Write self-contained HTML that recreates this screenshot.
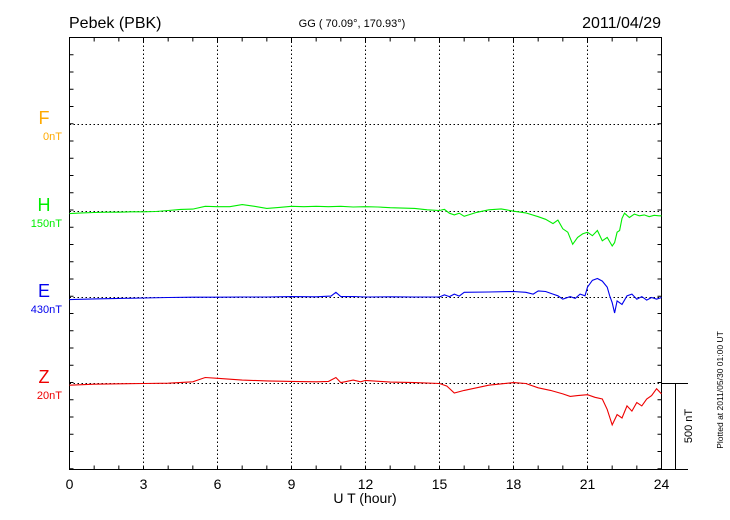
<!DOCTYPE html>
<html><head><meta charset="utf-8"><style>
body{margin:0;background:#fff;}
svg{display:block;font-family:"Liberation Sans",sans-serif;}
</style></head><body>
<svg id="chart" width="730" height="520" viewBox="0 0 730 520">
  <text x="69" y="28" font-size="16">Pebek (PBK)</text>
  <text x="352" y="27" font-size="11" text-anchor="middle">GG ( 70.09°, 170.93°)</text>
  <text x="661" y="28" font-size="16" text-anchor="end">2011/04/29</text>
  <text x="365" y="503" font-size="14" text-anchor="middle">U T (hour)</text>
  <text transform="translate(692,426) rotate(-90)" font-size="11" text-anchor="middle">500 nT</text>
  <text transform="translate(723,390) rotate(-90)" font-size="8.5" text-anchor="middle">Plotted at 2011/05/30 01:00 UT</text>
  <g id="grid"></g><g id="axes"></g><g id="series"></g><g id="labels"></g>
</svg>
<script>
const xTicks=[0,3,6,9,12,15,18,21,24];
const componentNames=["F","H","E","Z"];
const componentOffsets=["0nT","150nT","430nT","20nT"];
const hTimes=[0,0.5,1,1.5,2,2.5,3,3.5,4,4.5,5,5.5,6,6.5,7,7.5,8,8.5,9,9.5,10,10.5,11,11.5,12,12.5,13,13.5,14,14.5,15,15.2,15.4,15.6,15.8,16,16.5,17,17.5,18,18.5,19,19.3,19.6,19.8,20,20.2,20.4,20.6,20.8,21,21.2,21.4,21.6,21.8,22,22.1,22.2,22.3,22.4,22.5,22.7,22.9,23.1,23.3,23.5,23.7,23.9,24];
const hValues=[-12,-8,-6,-4,-4,-2,-2,0,6,12,14,30,28,28,40,30,18,24,30,28,30,28,30,26,28,26,22,20,18,10,6,12,-10,-20,-10,-28,-5,10,15,2,-8,-30,-45,-70,-50,-100,-120,-190,-150,-130,-120,-140,-110,-170,-150,-200,-180,-120,-110,-40,-10,-35,-15,-25,-20,-30,-22,-25,-25];
const eTimes=[0,1,2,3,4,5,6,7,8,9,10,10.6,10.8,11,11.5,12,13,14,15,15.2,15.4,15.6,15.8,16,17,18,18.5,18.8,19,19.3,19.6,19.8,20,20.3,20.5,20.7,20.9,21,21.2,21.4,21.6,21.8,21.9,22,22.1,22.2,22.4,22.6,22.8,23,23.2,23.4,23.6,23.8,24];
const eValues=[-12,-8,-5,-3,0,2,2,3,3,5,4,8,30,5,6,3,4,3,3,15,5,20,8,30,32,35,30,20,38,35,20,10,-10,5,-5,20,10,60,100,110,95,60,10,-30,-90,-20,-40,10,20,-10,5,-15,0,-10,0];
const zTimes=[0,1,2,3,4,5,5.5,6,7,8,9,10,10.5,10.8,11,11.5,11.8,12,13,14,15,15.3,15.6,16,17,18,18.5,19,19.5,20,20.3,20.6,21,21.3,21.6,21.8,22,22.2,22.4,22.6,22.8,23,23.2,23.4,23.6,23.8,24];
const zValues=[-10,-4,-2,0,2,10,35,30,20,15,12,10,12,35,5,20,10,18,8,5,0,-15,-55,-40,-10,5,0,-25,-40,-60,-75,-70,-65,-80,-90,-150,-240,-180,-200,-130,-160,-110,-130,-90,-70,-30,-60];
const compColors=["#ffaa00","#00ee00","#0000ee","#ee0000"];
const X0=69.5,X1=661.5,Y0=37.5,Y1=469.5,PXNT=86.25/500;
const baseY=[124,211,297,383];
const sx=h=>X0+(X1-X0)*h/24;
const ns="http://www.w3.org/2000/svg";
function mk(tag,attrs,parent){const e=document.createElementNS(ns,tag);for(const k in attrs)e.setAttribute(k,attrs[k]);parent.appendChild(e);return e;}
const grid=document.getElementById('grid'),axes=document.getElementById('axes'),ser=document.getElementById('series'),lab=document.getElementById('labels');
xTicks.slice(1,-1).forEach(h=>{const l=mk('line',{x1:sx(h),x2:sx(h),y1:Y0,y2:Y1,stroke:'#000','stroke-width':1,'stroke-dasharray':'1.5,2.5'},grid);

});
baseY.forEach(y=>{const l=mk('line',{x1:X0,x2:X1,y1:y+0.5,y2:y+0.5,stroke:'#000','stroke-width':1,'stroke-dasharray':'1.5,2.5'},grid);

});
const fr=mk('rect',{x:X0,y:Y0,width:X1-X0,height:Y1-Y0,fill:'none',stroke:'#000','stroke-width':1},axes);


for(let h=1;h<24;h++){mk('line',{x1:sx(h),x2:sx(h),y1:Y0,y2:Y0+4,stroke:'#000'},axes);mk('line',{x1:sx(h),x2:sx(h),y1:Y1,y2:Y1-4,stroke:'#000'},axes);}
for(let y=Y0+17.25;y<Y1;y+=17.25){mk('line',{x1:X0,x2:X0+4,y1:y,y2:y,stroke:'#000'},axes);mk('line',{x1:X1,x2:X1-4,y1:y,y2:y,stroke:'#000'},axes);}
mk('line',{x1:X1,x2:688,y1:383.5,y2:383.5,stroke:'#000'},axes);
mk('line',{x1:X1,x2:688,y1:Y1,y2:Y1,stroke:'#000'},axes);
const sb=mk('line',{x1:675.5,x2:675.5,y1:383.5,y2:Y1,stroke:'#000'},axes);


xTicks.forEach(h=>{const t=mk('text',{x:sx(h),y:489,'font-size':14,'text-anchor':'middle'},lab);t.textContent=h;

});
componentNames.forEach((n,i)=>{const t=mk('text',{x:44,y:baseY[i]-0,'font-size':18,'text-anchor':'middle',fill:compColors[i]},lab);t.textContent=n;


const o=mk('text',{x:62,y:baseY[i]+16,'font-size':11,'text-anchor':'end',fill:compColors[i]},lab);o.textContent=componentOffsets[i];

});
[[hTimes,hValues,1,'h-trace'],[eTimes,eValues,2,'e-trace'],[zTimes,zValues,3,'z-trace']].forEach(([ts,vs,i,name])=>{
 const pts=ts.map((t,k)=>sx(t).toFixed(1)+','+(baseY[i]+0.5-vs[k]*PXNT).toFixed(1)).join(' ');
 const p=mk('polyline',{points:pts,fill:'none',stroke:compColors[i],'stroke-width':1.1},ser);
 
 
});
</script>
</body></html>
